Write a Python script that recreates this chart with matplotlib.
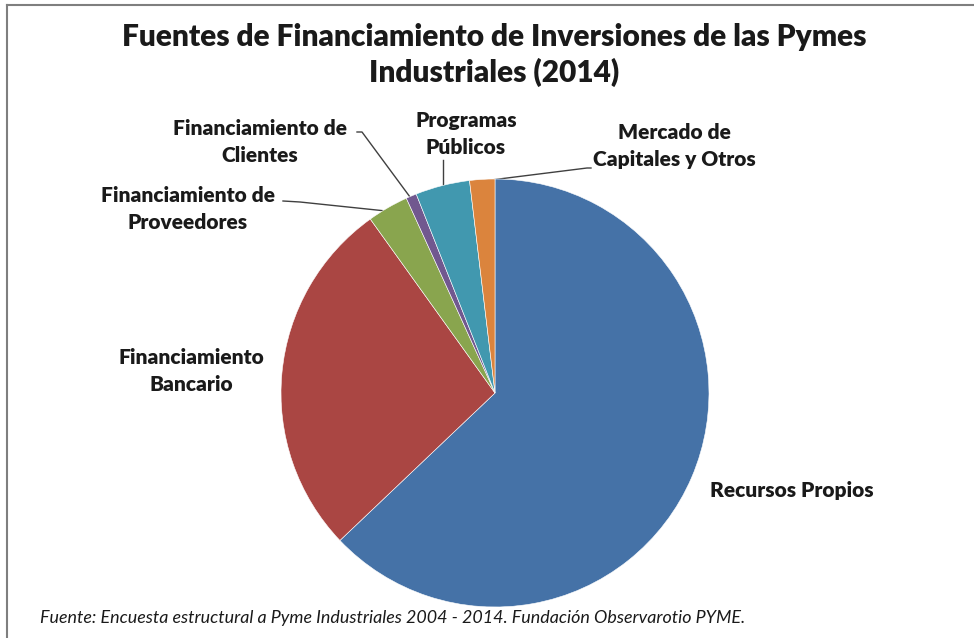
import matplotlib.pyplot as plt

# datos (%)
fuentes = ['Recursos Propios', 'Financiamiento\nBancario', 'Financiamiento de\nProveedores',
           'Financiamiento de\nClientes', 'Programas\nPúblicos', 'Mercado de\nCapitales y Otros']
valores = [62.9, 27.2, 3.1, 0.8, 4.1, 1.9]
colores = ['#4572A7', '#AA4643', '#89A54E', '#71588F', '#4198AF', '#DB843D']

titulo = 'Fuentes de Financiamiento de Inversiones de las Pymes\nIndustriales (2014)'
fuente = 'Fuente: Encuesta estructural a Pyme Industriales 2004 - 2014. Fundación Observarotio PYME.'

W, H = 974, 638
fig = plt.figure(figsize=(W / 100, H / 100), dpi=100)
ax = fig.add_axes([0, 0, 1, 1])
ax.set_xlim(0, W)
ax.set_ylim(H, 0)
ax.axis('off')

# pie en un eje aparte con y hacia arriba
cx, cy, r = 495, 393, 214
pax = fig.add_axes([0, 0, 1, 1])
wedges, _ = pax.pie(valores, colors=colores, startangle=90, counterclock=False,
                    center=(cx, H - cy), radius=r, frame=True,
                    wedgeprops=dict(edgecolor='white', linewidth=0.4))
pax.set_xlim(0, W)
pax.set_ylim(0, H)
pax.axis('off')

fam = ['Lato', 'DejaVu Sans']
tc = '#1a1a1a'

# marco
ax.plot([7, W], [4.5, 4.5], color='#7f7f7f', lw=1.5)
ax.plot([7, 7], [4.5, H], color='#7f7f7f', lw=1.5)

ax.text(494, 55, titulo, ha='center', va='center', fontsize=21.5, fontweight='heavy',
        family=fam, color=tc, linespacing=1.25)

pos_etiquetas = [(792, 491), (191, 371), (188, 209), (260, 142), (466, 134), (674, 146)]
for txt, (x, y) in zip(fuentes, pos_etiquetas):
    ax.text(x, y, txt, ha='center', va='center', fontsize=15, fontweight='heavy',
            family=fam, color=tc, linespacing=1.55)

# lineas guia
guias = [
    [(283, 201), (300, 202), (386, 211)],
    [(357, 132), (362, 132), (410, 197)],
    [(443, 160), (443, 187)],
    [(483, 181), (587, 168), (591, 168)],
]
for g in guias:
    ax.plot([p[0] for p in g], [p[1] for p in g], color='#404040', lw=1)

ax.text(40, 618, fuente, ha='left', va='center', fontsize=12.9, style='italic',
        family=fam, color=tc)

fig.savefig('out.png', dpi=100)
